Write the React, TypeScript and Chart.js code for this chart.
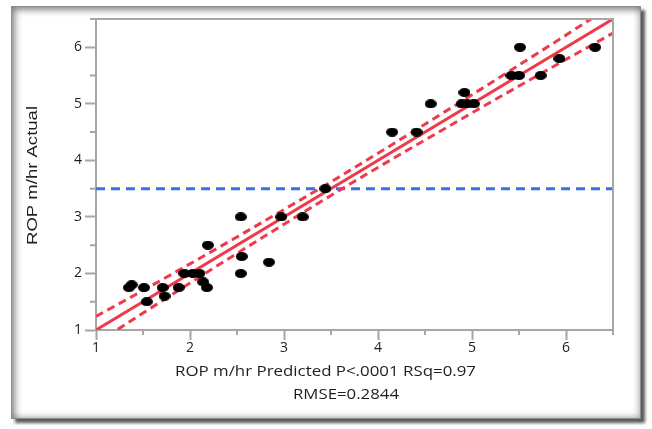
import React, { useEffect, useRef } from 'react';
import { Chart, registerables } from 'chart.js';

Chart.register(...registerables);

// ---- data ----
const predicted = [1.35, 1.38, 1.51, 1.54, 1.71, 1.73, 1.88, 1.94, 2.03, 2.1, 2.14, 2.18, 2.19, 2.54, 2.55, 2.54, 2.84, 2.97, 3.2, 3.44, 4.15, 4.41, 4.56, 4.92, 4.89, 4.95, 5.02, 5.42, 5.5, 5.51, 5.73, 5.93, 6.31];
const actual = [1.75, 1.8, 1.75, 1.5, 1.75, 1.6, 1.75, 2, 2, 2, 1.85, 1.75, 2.5, 3, 2.3, 2, 2.2, 3, 3, 3.5, 4.5, 4.5, 5, 5.2, 5, 5, 5, 5.5, 5.5, 6, 5.5, 5.8, 6];

const fitX = [1, 6.5];
const fitY = [1, 6.5];

const bandX = [1, 1.5, 2, 2.5, 3, 3.5, 4, 4.5, 5, 5.5, 6, 6.5];
const bandUpper = [1.24, 1.7, 2.17, 2.645, 3.13, 3.62, 4.125, 4.64, 5.16, 5.685, 6.215, 6.75];
const bandLower = [0.76, 1.3, 1.83, 2.355, 2.87, 3.38, 3.875, 4.36, 4.84, 5.315, 5.785, 6.25];

const refLevel = 3.5;

const xTicks = [1, 2, 3, 4, 5, 6];
const yTicks = [1, 2, 3, 4, 5, 6];
const xMinor = [1.5, 2.5, 3.5, 4.5, 5.5, 6.5];
const yMinor = [1.5, 2.5, 3.5, 4.5, 5.5, 6.5];

const xTitle = 'ROP m/hr Predicted P<.0001 RSq=0.97';
const xSubtitle = 'RMSE=0.2844';
const yTitle = 'ROP m/hr Actual';

// ---- styles ----
const RED = '#ef3a4c';
const BLUE = '#3b6fe8';
const AXIS = '#a6a6a6';
const TXT = '#1e1e1e';

function makeDot(w: number, h: number) {
  const c = document.createElement('canvas');
  c.width = w;
  c.height = h;
  const g = c.getContext('2d')!;
  g.fillStyle = '#000';
  g.beginPath();
  g.ellipse(w / 2, h / 2, w / 2, h / 2, 0, 0, Math.PI * 2);
  g.fill();
  return c;
}

function drawFitted(ctx: CanvasRenderingContext2D, text: string, font: string, cx: number, baseY: number, width: number) {
  ctx.save();
  ctx.font = font;
  const w = ctx.measureText(text).width;
  ctx.translate(cx, baseY);
  ctx.scale(width / w, 1);
  ctx.textAlign = 'center';
  ctx.textBaseline = 'alphabetic';
  ctx.fillStyle = TXT;
  ctx.fillText(text, 0, 0);
  ctx.restore();
}

const decorPlugin = {
  id: 'decor',
  afterDraw(chart: any) {
    const { ctx, chartArea, scales } = chart;
    const { left, right, top, bottom } = chartArea;
    ctx.save();
    ctx.strokeStyle = AXIS;
    ctx.lineWidth = 2;
    ctx.beginPath();
    ctx.moveTo(left, top);
    ctx.lineTo(right, top);
    ctx.lineTo(right, bottom);
    ctx.stroke();
    ctx.beginPath();
    for (const v of xMinor) {
      const px = scales.x.getPixelForValue(v);
      ctx.moveTo(px, bottom);
      ctx.lineTo(px, bottom + 5);
    }
    for (const v of yMinor) {
      const py = scales.y.getPixelForValue(v);
      ctx.moveTo(left, py);
      ctx.lineTo(left - 6, py);
    }
    ctx.stroke();
    ctx.restore();

    drawFitted(ctx, xTitle, '14px "Open Sans"', 325.5, 376, 301);
    drawFitted(ctx, xSubtitle, '14px "Open Sans"', 346, 399, 106);

    ctx.save();
    ctx.translate(37, (top + bottom) / 2 + 1);
    ctx.rotate(-Math.PI / 2);
    ctx.font = '14px "Liberation Sans"';
    const w = ctx.measureText(yTitle).width;
    ctx.scale(139 / w, 1);
    ctx.textAlign = 'center';
    ctx.textBaseline = 'alphabetic';
    ctx.fillStyle = TXT;
    ctx.fillText(yTitle, 0, 0);
    ctx.restore();
  },
};

export default function App() {
  const ref = useRef<HTMLCanvasElement>(null);

  useEffect(() => {
    const canvas = ref.current!;
    const dot = makeDot(12, 9);
    const points = predicted.map((x, i) => ({ x, y: actual[i] }));
    const chart = new Chart(canvas, {
      type: 'scatter',
      data: {
        datasets: [
          {
            data: points,
            pointStyle: dot as any,
            pointRadius: 5,
            backgroundColor: '#000',
            borderColor: '#000',
          },
          {
            data: fitX.map((x, i) => ({ x, y: fitY[i] })),
            showLine: true,
            pointRadius: 0,
            borderColor: RED,
            borderWidth: 3,
          },
          {
            data: bandX.map((x, i) => ({ x, y: bandUpper[i] })),
            showLine: true,
            pointRadius: 0,
            borderColor: RED,
            borderWidth: 3,
            borderDash: [8, 5],
            cubicInterpolationMode: 'monotone',
          },
          {
            data: bandX.map((x, i) => ({ x, y: bandLower[i] })),
            showLine: true,
            pointRadius: 0,
            borderColor: RED,
            borderWidth: 3,
            borderDash: [8, 5],
            cubicInterpolationMode: 'monotone',
          },
          {
            data: [
              { x: 1, y: refLevel },
              { x: 6.5, y: refLevel },
            ],
            showLine: true,
            pointRadius: 0,
            borderColor: BLUE,
            borderWidth: 3,
            borderDash: [9, 6],
          },
        ] as any,
      },
      options: {
        responsive: false,
        animation: false,
        devicePixelRatio: 1,
        layout: { padding: { top: 19, right: 39, left: 0, bottom: 0 } },
        plugins: { legend: { display: false }, tooltip: { enabled: false } },
        scales: {
          x: {
            type: 'linear',
            min: 1,
            max: 6.5,
            afterBuildTicks: (s: any) => {
              s.ticks = xTicks.map((v) => ({ value: v }));
            },
            afterFit: (s: any) => {
              s.height = 99;
            },
            grid: { drawOnChartArea: false, tickLength: 10, tickColor: AXIS, tickWidth: 2 },
            border: { color: AXIS, width: 2 },
            ticks: { font: { family: 'Open Sans', size: 14 }, color: TXT, padding: 0, maxRotation: 0, autoSkip: false },
          },
          y: {
            type: 'linear',
            min: 1,
            max: 6.5,
            afterBuildTicks: (s: any) => {
              s.ticks = yTicks.map((v) => ({ value: v }));
            },
            afterFit: (s: any) => {
              s.width = 96;
            },
            grid: { drawOnChartArea: false, tickLength: 11, tickColor: AXIS, tickWidth: 2 },
            border: { color: AXIS, width: 2 },
            ticks: { font: { family: 'Open Sans', size: 14 }, color: TXT, padding: 3, autoSkip: false },
          },
        },
      } as any,
      plugins: [decorPlugin],
    });
    return () => chart.destroy();
  }, []);

  return (
    <div style={{ position: 'fixed', left: 0, top: 0, width: 652, height: 429, background: '#fff', overflow: 'hidden' }}>
      <div
        style={{
          position: 'absolute',
          left: 11,
          top: 6,
          width: 630,
          height: 413,
          boxSizing: 'border-box',
          border: '1px solid #8c8c8c',
          boxShadow: 'inset 3px 3px 7px rgba(0,0,0,0.45), inset -2px -2px 6px rgba(0,0,0,0.2), 4px 4px 3px rgba(0,0,0,0.65)',
        }}
      />
      <canvas ref={ref} width={652} height={429} style={{ position: 'absolute', left: 0, top: 0, width: 652, height: 429 }} />
    </div>
  );
}
